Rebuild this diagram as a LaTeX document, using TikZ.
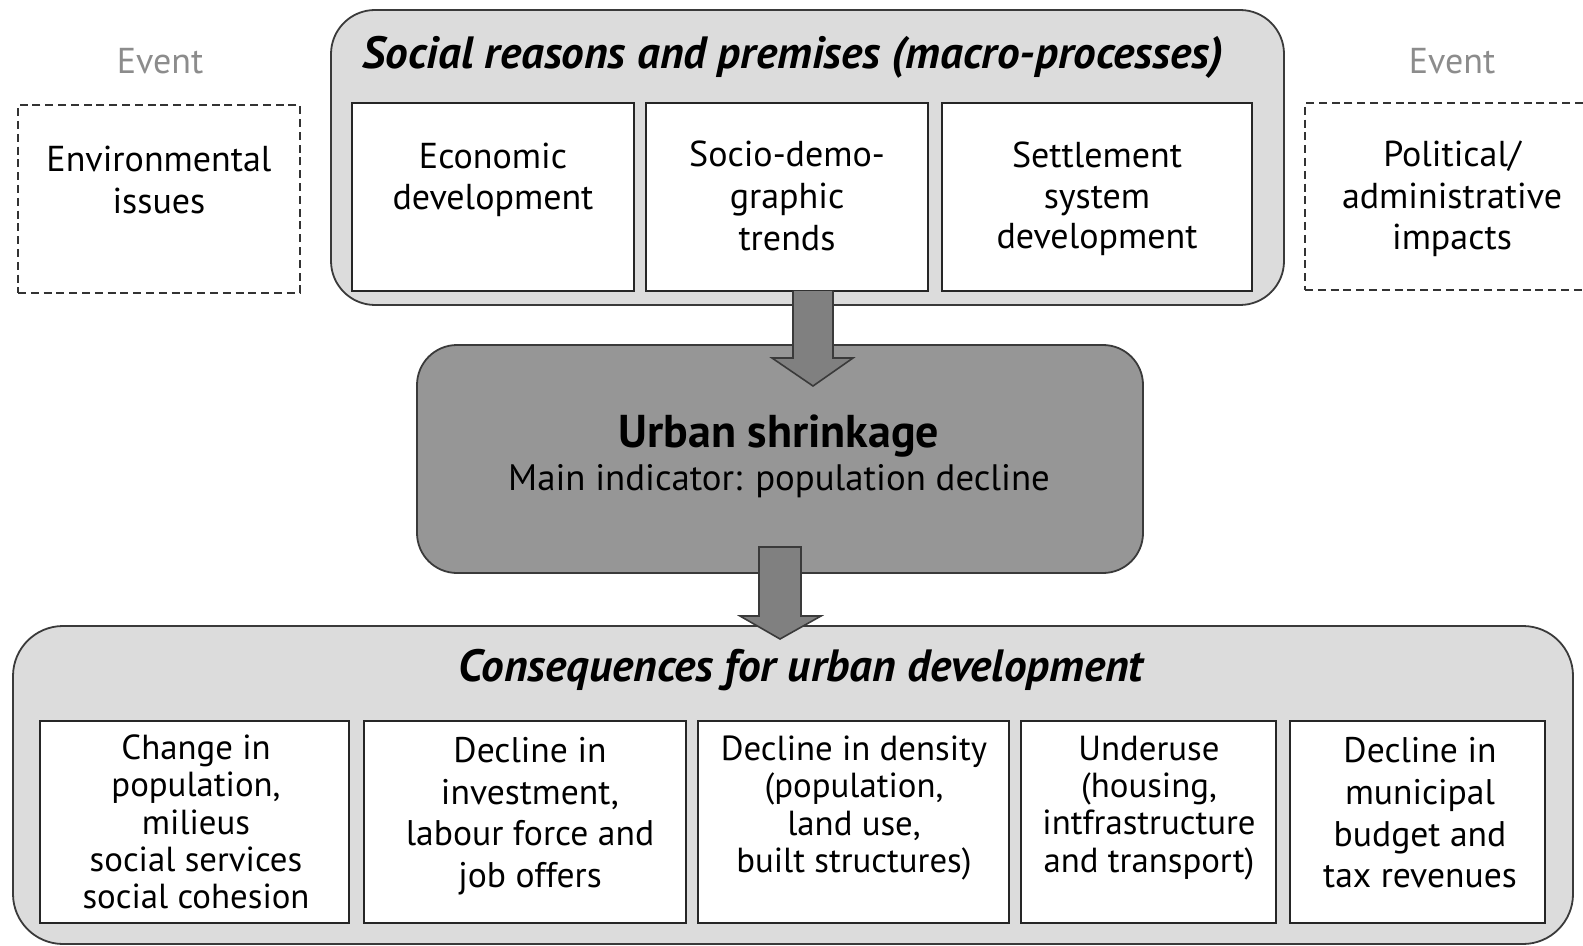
\documentclass[tikz,border=0pt]{standalone}
\usepackage{fontspec}
\setmainfont{PT Sans}
\usetikzlibrary{fit,calc}
\definecolor{lightbg}{HTML}{DCDCDC}
\definecolor{midbg}{HTML}{969696}
\definecolor{arrowfill}{HTML}{808080}
\definecolor{eventgray}{HTML}{8C8C8C}
\definecolor{edge}{HTML}{3A3A3A}
\begin{document}
\begin{tikzpicture}[x=0.5pt,y=-0.5pt,
  container/.style={draw=edge, line width=0.9pt, fill=lightbg, rounded corners=22pt, inner sep=0pt},
  midbox/.style={draw=edge, line width=0.9pt, fill=midbg, rounded corners=20pt, inner sep=0pt},
  whitebox/.style={draw=black!85, line width=1pt, fill=white, inner sep=0pt},
  eventbox/.style={draw=black!80, line width=1pt, dash pattern=on 4pt off 2.4pt, inner sep=0pt},
  txt/.style={align=center, font=\fontsize{18}{21}\selectfont, inner sep=0pt},
  txtb/.style={align=center, font=\fontsize{17.4}{18.6}\selectfont, inner sep=0pt},
  txtc/.style={align=center, font=\fontsize{17.8}{20.8}\selectfont, inner sep=0pt},
  title/.style={font=\fontsize{22.6}{24}\selectfont\bfseries\itshape, inner sep=0pt},
  eventlabel/.style={text=eventgray, font=\fontsize{18}{20}\selectfont, inner sep=0pt},
  blockarrow/.style={draw=edge, line width=0.8pt, fill=arrowfill, line join=miter}
]
\useasboundingbox (0,0) rectangle (1583,946);

% Events
\node[eventlabel] (ev1) at (160,61) {Event};
\node[eventlabel] (ev2) at (1452,61) {Event};
\node[eventbox, fit={(18,105) (300,293)}] (env) {};
\node[txt] at (159,180) {Environmental\\issues};
\node[eventbox, fit={(1305,103) (1600,290)}] (pol) {};
\node[txt, font=\fontsize{18}{20.8}\selectfont] at (1452,199) {Political/\\administrative\\impacts};

% Top container
\node[container, fit={(331,10) (1284,305)}] (top) {};
\node[title] (toptitle) at (793,57) {Social reasons and premises (macro-processes)};
\node[whitebox, fit={(352,103) (634,291)}] (eco) {};
\node[txt, font=\fontsize{18}{20.6}\selectfont] at (493,180) {Economic\\development};
\node[whitebox, fit={(646,103) (928,291)}] (sdt) {};
\node[txt] at (787,196) {Socio-demo-\\graphic\\trends};
\node[whitebox, fit={(942,103) (1252,291)}] (set) {};
\node[txt, font=\fontsize{18}{20.2}\selectfont] at (1097,199) {Settlement\\system\\development};

% Middle box
\node[midbox, fit={(417,345) (1143,573)}] (urban) {};
\node[font=\fontsize{23}{24}\selectfont\bfseries, inner sep=0pt] at (779,436) {Urban shrinkage};
\node[font=\fontsize{18.4}{20}\selectfont, inner sep=0pt] at (779,481) {Main indicator: population decline};

% Arrow 1
\draw[blockarrow] (793,291) -- (793,358) -- (772,358) -- (813,386) -- (853,358) -- (833,358) -- (833,291);

% Bottom container
\node[container, rounded corners=25pt, fit={(13,626) (1573,944)}] (bottom) {};
\node[title] (bottomtitle) at (801,670) {Consequences for urban development};

\node[whitebox, fit={(40,721) (349,923)}] (c1) {};
\node[txtb] at (196,822) {Change in\\population,\\milieus\\social services\\social cohesion};
\node[whitebox, fit={(364,721) (686,923)}] (c2) {};
\node[txtc] at (530,816) {Decline in\\investment,\\labour force and\\job offers};
\node[whitebox, fit={(698,721) (1009,923)}] (c3) {};
\node[txtb] at (854,808) {Decline in density\\(population,\\land use,\\built structures)};
\node[whitebox, fit={(1021,721) (1276,923)}] (c4) {};
\node[txtb] at (1149,808) {Underuse\\(housing,\\intfrastructure\\and transport)};
\node[whitebox, fit={(1290,721) (1545,923)}] (c5) {};
\node[txtc] at (1420,813) {Decline in\\municipal\\budget and\\tax revenues};

% Arrow 2
\draw[blockarrow] (759,547) -- (759,616) -- (740,616) -- (780,639) -- (821,616) -- (801,616) -- (801,547) -- cycle;
\end{tikzpicture}
\end{document}
